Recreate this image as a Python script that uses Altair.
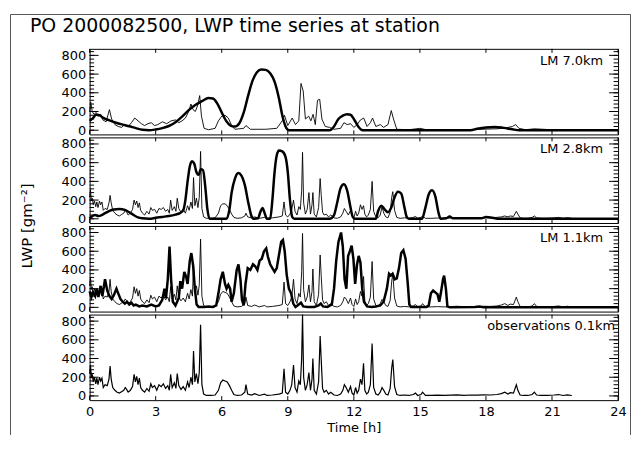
import altair as alt
import pandas as pd

# ---------------- data ----------------
title_text = "PO 2000082500, LWP time series at station"
panel_labels = ["LM 7.0km", "LM 2.8km", "LM 1.1km", "observations 0.1km"]
x_ticks = [0, 3, 6, 9, 12, 15, 18, 21, 24]
y_major = [0, 200, 400, 600, 800]
y_minor = [0, 40, 80, 120, 160, 200, 240, 280, 320, 360, 400, 440, 480, 520,
           560, 600, 640, 680, 720, 760, 800, 840]

# observation time axis (hours)
obs_hours = [
    0.00, 0.04, 0.08, 0.12, 0.17, 0.22, 0.28, 0.33, 0.38, 0.45,
    0.50, 0.56, 0.62, 0.70, 0.80, 0.88, 0.93, 0.98, 1.05, 1.15,
    1.25, 1.35, 1.45, 1.55, 1.62, 1.68, 1.75, 1.85, 1.95, 2.02,
    2.08, 2.14, 2.20, 2.26, 2.32, 2.40, 2.50, 2.60, 2.70, 2.78,
    2.85, 2.95, 3.05, 3.15, 3.25, 3.35, 3.45, 3.55, 3.62, 3.68,
    3.75, 3.85, 3.92, 3.98, 4.05, 4.15, 4.25, 4.35, 4.45, 4.52,
    4.60, 4.67, 4.72, 4.78, 4.85, 4.92, 4.98, 5.04, 5.10, 5.18,
    5.30, 5.50, 5.70, 5.85, 5.95, 6.05, 6.15, 6.25, 6.35, 6.45,
    6.55, 6.70, 6.90, 7.05, 7.10, 7.18, 7.35, 7.50, 7.70, 7.95,
    8.05, 8.30, 8.60, 8.75, 8.83, 8.90, 9.00, 9.10, 9.18, 9.26,
    9.33, 9.42, 9.50, 9.57, 9.63, 9.67, 9.72, 9.80, 9.88, 9.96,
    10.03, 10.10, 10.14, 10.20, 10.30, 10.40, 10.47, 10.52, 10.58, 10.65,
    10.75, 10.85, 10.95, 11.10, 11.25, 11.40, 11.50, 11.57, 11.65, 11.75,
    11.85, 11.92, 12.00, 12.08, 12.15, 12.22, 12.30, 12.37, 12.44, 12.50,
    12.58, 12.66, 12.75, 12.83, 12.90, 13.00, 13.10, 13.20, 13.28, 13.36,
    13.45, 13.55, 13.65, 13.72, 13.77, 13.85, 13.95, 14.10, 14.30, 14.50,
    14.70, 14.80, 14.90, 15.05, 15.12, 15.25, 15.50, 15.80, 16.10, 16.40,
    16.70, 17.00, 17.30, 17.60, 17.90, 18.20, 18.50, 18.70, 18.85, 19.00,
    19.10, 19.25, 19.38, 19.45, 19.55, 19.70, 19.90, 20.10, 20.20, 20.30,
    20.50, 20.80, 21.10, 21.30, 21.50, 21.70, 21.90,
]

# observations at 0.1 km resolution (bottom panel)
obs_01km = [
    240, 330, 190, 230, 150, 200, 130, 190, 120, 200,
    160, 190, 90, 120, 110, 180, 320, 180, 90, 60,
    40, 30, 45, 60, 90, 70, 40, 60, 100, 230,
    150, 210, 120, 190, 90, 60, 40, 80, 50, 130,
    90, 110, 60, 120, 100, 130, 80, 110, 60, 230,
    90, 140, 80, 240, 110, 70, 100, 60, 150, 90,
    200, 120, 480, 150, 240, 130, 250, 760, 120, 20,
    5, 5, 10, 60, 140, 170, 160, 150, 110, 60,
    15, 5, 10, 40, 120, 20, 10, 25, 5, 20,
    5, 10, 20, 30, 290, 40, 20, 60, 120, 330,
    90, 40, 160, 120, 400, 920, 200, 60, 120, 250,
    60, 180, 400, 60, 20, 150, 640, 380, 80, 40,
    60, 20, 40, 10, 5, 20, 60, 120, 90, 40,
    100, 30, 10, 90, 30, 60, 180, 120, 350, 60,
    20, 40, 120, 560, 90, 20, 10, 40, 90, 60,
    20, 10, 80, 300, 390, 100, 15, 5, 10, 5,
    15, 30, 5, 15, 40, 5, 5, 8, 5, 8,
    12, 5, 10, 8, 12, 10, 15, 25, 40, 20,
    35, 30, 120, 60, 10, 5, 5, 15, 40, 10,
    5, 5, 10, 15, 5, 12, 5,
]

# observations averaged to the 1.1 km model grid
obs_11km = [
    230, 320, 190, 220, 150, 200, 130, 180, 120, 190,
    160, 180, 90, 120, 110, 170, 300, 170, 90, 60,
    40, 30, 45, 60, 90, 70, 40, 60, 100, 220,
    150, 200, 120, 180, 90, 60, 40, 80, 50, 130,
    90, 110, 60, 120, 100, 130, 80, 110, 60, 220,
    90, 140, 80, 230, 110, 70, 100, 60, 150, 90,
    190, 120, 460, 150, 230, 130, 240, 730, 120, 20,
    5, 5, 10, 60, 140, 170, 160, 150, 110, 60,
    15, 5, 10, 40, 110, 20, 10, 25, 5, 20,
    5, 10, 20, 30, 270, 40, 20, 60, 110, 300,
    90, 40, 150, 110, 380, 790, 190, 60, 110, 240,
    60, 170, 410, 60, 20, 140, 560, 330, 80, 40,
    60, 20, 40, 10, 5, 20, 60, 110, 90, 40,
    100, 30, 10, 90, 30, 60, 170, 120, 330, 60,
    20, 40, 110, 490, 90, 20, 10, 40, 85, 60,
    20, 10, 75, 280, 360, 100, 15, 5, 10, 5,
    15, 30, 5, 15, 40, 5, 5, 8, 5, 8,
    12, 5, 10, 8, 12, 10, 15, 25, 40, 20,
    35, 30, 110, 60, 10, 5, 5, 15, 40, 10,
    5, 5, 10, 15, 5, 12, 5,
]

# observations averaged to the 2.8 km model grid
obs_28km = [
    230, 310, 190, 220, 150, 190, 130, 180, 120, 190,
    150, 180, 90, 110, 100, 170, 250, 170, 90, 60,
    40, 30, 45, 60, 90, 70, 40, 60, 100, 200,
    150, 190, 120, 170, 90, 60, 40, 80, 50, 120,
    90, 100, 60, 110, 100, 120, 80, 100, 60, 200,
    90, 130, 80, 220, 110, 70, 100, 60, 140, 90,
    180, 110, 440, 140, 220, 120, 230, 720, 110, 20,
    5, 5, 10, 60, 140, 160, 160, 140, 100, 50,
    15, 5, 10, 30, 60, 20, 10, 20, 5, 15,
    5, 10, 20, 30, 180, 40, 20, 50, 100, 200,
    80, 40, 130, 100, 300, 710, 170, 50, 100, 280,
    50, 150, 280, 50, 20, 120, 430, 250, 70, 40,
    50, 20, 40, 10, 5, 20, 60, 110, 80, 40,
    90, 30, 10, 80, 30, 60, 150, 100, 140, 50,
    20, 40, 100, 400, 80, 20, 10, 40, 130, 60,
    20, 10, 70, 230, 290, 90, 15, 5, 10, 5,
    15, 25, 5, 15, 30, 5, 5, 8, 5, 8,
    12, 5, 10, 8, 12, 10, 15, 20, 30, 20,
    30, 25, 80, 50, 10, 5, 5, 15, 30, 10,
    5, 5, 10, 15, 5, 12, 5,
]

# observations averaged to the 7.0 km model grid (hour, LWP)
obs_70km = [
    (0.0, 200), (0.05, 300), (0.12, 200), (0.2, 170), (0.3, 190), (0.4, 150),
    (0.5, 170), (0.6, 110), (0.75, 90), (0.9, 220), (1.0, 120), (1.15, 60),
    (1.3, 40), (1.45, 30), (1.6, 60), (1.75, 40), (1.9, 80), (2.05, 130),
    (2.2, 100), (2.35, 70), (2.5, 50), (2.65, 70), (2.8, 80), (2.95, 50),
    (3.1, 60), (3.3, 90), (3.5, 70), (3.7, 100), (3.9, 110), (4.05, 80),
    (4.2, 100), (4.35, 130), (4.5, 200), (4.6, 280), (4.7, 220), (4.8, 200),
    (4.9, 260), (5.0, 370), (5.08, 150), (5.2, 20), (5.4, 5), (5.7, 20),
    (5.85, 100), (6.0, 150), (6.15, 160), (6.3, 130), (6.45, 50), (6.6, 10),
    (7.0, 20), (7.1, 50), (7.3, 10), (8.0, 10), (8.5, 20), (8.75, 100),
    (8.85, 160), (9.0, 50), (9.2, 130), (9.35, 60), (9.5, 100), (9.6, 500),
    (9.7, 420), (9.8, 120), (9.95, 150), (10.05, 100), (10.15, 170),
    (10.25, 60), (10.35, 320), (10.45, 330), (10.55, 120), (10.7, 40),
    (10.9, 30), (11.1, 10), (11.4, 20), (11.55, 80), (11.7, 60), (11.85, 70),
    (12.0, 30), (12.15, 60), (12.3, 110), (12.45, 130), (12.6, 40),
    (12.75, 80), (12.85, 130), (13.0, 40), (13.2, 60), (13.35, 30),
    (13.55, 60), (13.7, 210), (13.8, 120), (13.95, 10), (14.5, 5),
    (15.0, 20), (15.3, 5), (17.0, 5), (18.5, 15), (18.9, 25), (19.2, 40),
    (19.35, 60), (19.5, 20), (19.8, 5), (20.2, 15), (21.0, 5), (21.9, 5),
]

# model LWP (hour, LWP)
lm_70km = [
    (0.0, 100), (0.15, 130), (0.3, 165), (0.45, 160), (0.6, 135), (0.9, 105),
    (1.2, 80), (1.5, 60), (1.8, 42), (2.1, 22), (2.4, 5), (2.7, 0),
    (3.0, 8), (3.3, 22), (3.6, 45), (3.9, 85), (4.2, 145), (4.5, 215),
    (4.8, 270), (5.1, 310), (5.4, 345), (5.6, 340), (5.8, 285), (6.0, 190),
    (6.2, 100), (6.4, 50), (6.6, 40), (6.8, 75), (7.0, 190), (7.2, 370),
    (7.4, 530), (7.6, 620), (7.8, 650), (8.0, 645), (8.2, 610), (8.4, 520),
    (8.6, 340), (8.75, 160), (8.9, 40), (9.05, 0), (10.9, 0), (11.1, 40),
    (11.3, 120), (11.5, 155), (11.7, 170), (11.85, 165), (12.0, 120),
    (12.2, 40), (12.4, 0), (17.3, 0), (17.6, 15), (18.0, 30), (18.4, 35),
    (18.8, 25), (19.2, 10), (19.5, 0), (24.0, 0),
]

lm_28km = [
    (0.0, 5), (0.1, 25), (0.25, 40), (0.4, 30), (0.55, 40), (0.7, 60),
    (0.9, 85), (1.1, 100), (1.35, 105), (1.6, 95), (1.8, 70), (2.0, 40),
    (2.2, 15), (2.4, 5), (2.7, 0), (3.0, 10), (3.3, 20), (3.6, 30),
    (3.9, 45), (4.1, 60), (4.25, 90), (4.35, 200), (4.45, 400), (4.55, 560),
    (4.65, 615), (4.75, 590), (4.85, 500), (4.95, 470), (5.05, 530),
    (5.15, 520), (5.25, 350), (5.35, 100), (5.45, 0), (6.2, 0), (6.35, 100),
    (6.45, 280), (6.6, 430), (6.75, 490), (6.9, 460), (7.05, 360),
    (7.2, 180), (7.35, 30), (7.45, 0), (7.65, 5), (7.75, 70), (7.85, 115),
    (7.95, 60), (8.05, 0), (8.2, 0), (8.3, 200), (8.4, 500), (8.5, 680),
    (8.6, 730), (8.75, 720), (8.9, 660), (9.0, 500), (9.1, 200), (9.2, 20),
    (9.3, 0), (10.9, 0), (11.1, 40), (11.25, 180), (11.4, 330), (11.55, 370),
    (11.7, 300), (11.85, 120), (11.95, 20), (12.05, 0), (13.0, 0),
    (13.1, 80), (13.25, 140), (13.4, 100), (13.55, 70), (13.7, 120),
    (13.85, 230), (14.0, 290), (14.15, 270), (14.3, 120), (14.4, 20),
    (14.5, 0), (15.1, 0), (15.25, 120), (15.4, 260), (15.55, 305),
    (15.7, 240), (15.85, 60), (15.95, 0), (16.2, 5), (16.35, 25), (16.5, 5),
    (17.8, 5), (18.0, 18), (18.3, 10), (18.6, 0), (24.0, 0),
]

lm_11km = [
    (0.0, 170), (0.08, 110), (0.15, 160), (0.25, 120), (0.32, 200),
    (0.4, 110), (0.5, 230), (0.58, 120), (0.7, 300), (0.8, 180), (0.9, 120),
    (1.0, 90), (1.1, 130), (1.22, 200), (1.3, 150), (1.4, 90), (1.5, 60),
    (1.6, 40), (1.7, 60), (1.8, 30), (1.9, 50), (2.0, 20), (2.1, 30),
    (2.25, 10), (2.4, 20), (2.6, 10), (2.8, 30), (3.0, 10), (3.15, 20),
    (3.3, 80), (3.4, 200), (3.47, 100), (3.55, 300), (3.63, 650),
    (3.7, 300), (3.78, 60), (3.9, 20), (4.05, 100), (4.12, 280), (4.2, 200),
    (4.3, 380), (4.38, 330), (4.45, 250), (4.55, 500), (4.62, 580),
    (4.7, 450), (4.78, 200), (4.86, 30), (4.95, 5), (5.2, 5), (5.4, 10),
    (5.6, 5), (5.75, 20), (5.85, 150), (5.95, 300), (6.05, 380), (6.15, 250),
    (6.22, 200), (6.3, 240), (6.38, 200), (6.45, 60), (6.55, 150),
    (6.68, 400), (6.76, 460), (6.85, 300), (6.92, 80), (7.0, 20),
    (7.08, 250), (7.18, 420), (7.3, 400), (7.42, 460), (7.52, 440),
    (7.62, 400), (7.72, 500), (7.82, 520), (7.92, 600), (8.02, 630),
    (8.1, 540), (8.2, 460), (8.3, 420), (8.4, 380), (8.5, 420), (8.6, 560),
    (8.7, 700), (8.78, 720), (8.86, 600), (8.95, 350), (9.05, 200),
    (9.15, 150), (9.25, 40), (9.35, 5), (9.5, 30), (9.6, 50), (9.7, 10),
    (9.9, 5), (10.2, 5), (10.4, 20), (10.5, 40), (10.6, 10), (10.8, 5),
    (11.0, 30), (11.1, 200), (11.2, 500), (11.3, 700), (11.42, 800),
    (11.5, 650), (11.58, 300), (11.66, 200), (11.74, 550), (11.82, 600),
    (11.9, 660), (11.98, 520), (12.06, 250), (12.14, 450), (12.22, 550),
    (12.3, 480), (12.38, 200), (12.46, 60), (12.6, 10), (12.8, 5),
    (13.0, 10), (13.2, 20), (13.35, 60), (13.5, 200), (13.6, 360),
    (13.68, 340), (13.76, 360), (13.86, 300), (13.95, 310), (14.05, 420),
    (14.15, 580), (14.25, 610), (14.35, 520), (14.45, 250), (14.52, 30),
    (14.6, 5), (15.3, 5), (15.4, 20), (15.5, 150), (15.6, 180), (15.7, 160),
    (15.8, 140), (15.88, 60), (15.95, 150), (16.05, 300), (16.1, 340),
    (16.18, 200), (16.25, 10), (16.35, 0), (17.5, 5), (17.7, 10),
    (17.9, 0), (24.0, 0),
]

# ---------------- layout ----------------
FONT = "DejaVu Sans"
W, H = 627, 428
X0, X1 = 82, 613
PANEL_TOPS = [40, 129, 218, 307]
PANEL_H = 86
Y_DOMAIN = [-45, 870]
YT_MAJOR, YT_MINOR, XT = 9, 4.5, 4
TICK_COLOR = "black"


def pairs_df(pairs):
    return pd.DataFrame(pairs, columns=["t", "v"])


def series_df(values):
    return pd.DataFrame({"t": obs_hours, "v": values})


panels = [
    (pairs_df(obs_70km), pairs_df(lm_70km), "monotone"),
    (series_df(obs_28km), pairs_df(lm_28km), "monotone"),
    (series_df(obs_11km), pairs_df(lm_11km), "linear"),
    (series_df(obs_01km), None, "linear"),
]


def ax(**kw):
    d = dict(title=None, grid=False, domainColor="black", labelColor="black",
             labelFont=FONT, labelFontSize=13, labelFlush=False, ticks=False)
    d.update(kw)
    return alt.Axis(**d)


layers = []
for i, (thin_df, thick_df, interp) in enumerate(panels):
    top = PANEL_TOPS[i]
    bottom = top + PANEL_H
    xs = alt.Scale(domain=[0, 24], range=[X0, X1], nice=False, zero=False)
    ys = alt.Scale(domain=Y_DOMAIN, range=[bottom, top], nice=False,
                   zero=False, clamp=True)

    # tick tables, one per panel and side so every tick layer has its own data
    def ytab(vals, side):
        return pd.DataFrame({"v": vals, "panel": i, "side": side})

    def xtab(side):
        return pd.DataFrame({"t": x_ticks, "panel": i, "side": side})

    def carrier(xaxis, yaxis, df=thin_df):
        return alt.Chart(df).mark_line(strokeOpacity=0).encode(
            x=alt.X("t:Q", scale=xs, axis=xaxis),
            y=alt.Y("v:Q", scale=ys, axis=yaxis),
        )

    # panel frame: left + bottom, right + top (axis domains)
    layers.append(carrier(
        ax(orient="top", offset=-bottom, labels=False),
        ax(orient="right", offset=X0 - W, labels=False),
    ))
    layers.append(carrier(
        ax(orient="bottom", offset=top - H, labels=False),
        ax(orient="left", offset=-X1, labels=False),
    ))
    # y tick labels (and x labels + title for the bottom panel)
    if i == 3:
        xlab = ax(orient="bottom", offset=bottom - H, values=x_ticks,
                  domain=False, labelPadding=5, title="Time [h]",
                  titleFont=FONT, titleFontSize=13, titleFontWeight="normal",
                  titleColor="black", titlePadding=4)
    else:
        xlab = None
    layers.append(carrier(xlab, ax(orient="left", offset=-X0, values=y_major,
                                   domain=False, labelPadding=4)))

    # inward tick marks drawn from the tick lists through the panel scales
    for vals, size, tag in ((y_major, YT_MAJOR, "maj"), (y_minor, YT_MINOR, "min")):
        layers.append(alt.Chart(ytab(vals, "L" + tag)).mark_rule(
            color=TICK_COLOR, strokeWidth=1).encode(
            y=alt.Y("v:Q", scale=ys, axis=None),
            x=alt.value(X0), x2=alt.value(X0 + size)))
        layers.append(alt.Chart(ytab(vals, "R" + tag)).mark_rule(
            color=TICK_COLOR, strokeWidth=1).encode(
            y=alt.Y("v:Q", scale=ys, axis=None),
            x=alt.value(X1 - size), x2=alt.value(X1)))
    layers.append(alt.Chart(xtab("T")).mark_rule(color=TICK_COLOR, strokeWidth=1).encode(
        x=alt.X("t:Q", scale=xs, axis=None),
        y=alt.value(top), y2=alt.value(top + XT)))
    layers.append(alt.Chart(xtab("B")).mark_rule(color=TICK_COLOR, strokeWidth=1).encode(
        x=alt.X("t:Q", scale=xs, axis=None),
        y=alt.value(bottom - XT), y2=alt.value(bottom)))

    # visible lines
    thin_w = 1.2 if thick_df is None else 0.9
    layers.append(alt.Chart(thin_df).mark_line(color="black", strokeWidth=thin_w).encode(
        x=alt.X("t:Q", scale=xs, axis=None),
        y=alt.Y("v:Q", scale=ys, axis=None),
    ))
    if thick_df is not None:
        layers.append(alt.Chart(thick_df).mark_line(
            color="black", strokeWidth=2.5, interpolate=interp).encode(
            x=alt.X("t:Q", scale=xs, axis=None),
            y=alt.Y("v:Q", scale=ys, axis=None),
        ))

    # panel label
    label_x = 610 if i == 3 else 598
    layers.append(alt.Chart(pd.DataFrame({"txt": [panel_labels[i]]})).mark_text(
        align="right", baseline="middle", font=FONT, fontSize=13, color="black"
    ).encode(x=alt.value(label_x), y=alt.value(top + 12), text="txt:N"))

# title, y-title and outer frame
layers.append(alt.Chart(pd.DataFrame({"txt": [title_text]})).mark_text(
    align="left", baseline="middle", font=FONT, fontSize=19, color="black"
).encode(x=alt.value(22), y=alt.value(17), text="txt:N"))

layers.append(alt.Chart(pd.DataFrame({"txt": ["LWP [gm\u207b\u00b2]"]})).mark_text(
    align="center", baseline="middle", font=FONT, fontSize=15, color="black", angle=270
).encode(x=alt.value(19), y=alt.value(218), text="txt:N"))

frame_color = "#555555"
for side in ("left", "right", "top"):
    one = pd.DataFrame({"frame": [side]})
    if side == "left":
        enc = dict(x=alt.value(2.5), y=alt.value(5.5), y2=alt.value(H))
    elif side == "right":
        enc = dict(x=alt.value(625.5), y=alt.value(5.5), y2=alt.value(H))
    else:
        enc = dict(x=alt.value(2.5), x2=alt.value(625.5), y=alt.value(5.5))
    layers.append(alt.Chart(one).mark_rule(color=frame_color, strokeWidth=1).encode(**enc))

chart = alt.layer(*layers).resolve_scale(
    x="independent", y="independent"
).resolve_axis(
    x="independent", y="independent"
).properties(
    width=W, height=H, padding=0, background="white",
    autosize=alt.AutoSizeParams(type="none"),
).configure_view(stroke=None)

chart.save("out.html", embed_options={"renderer": "svg", "actions": False})
